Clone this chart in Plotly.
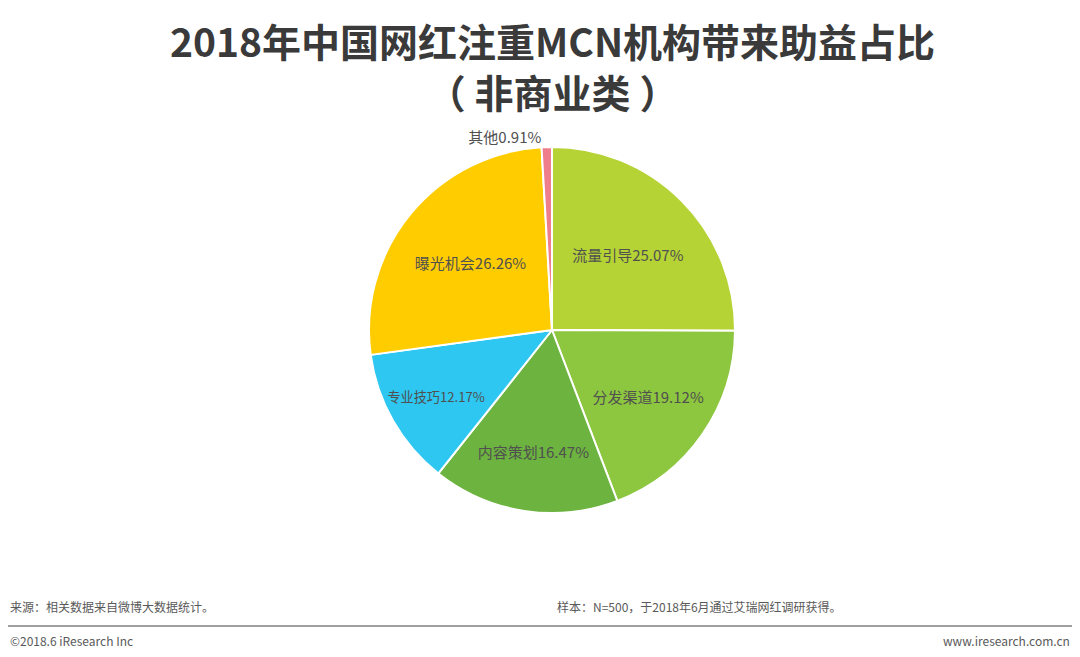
import plotly.graph_objects as go

labels = ["流量引导", "分发渠道", "内容策划", "专业技巧", "曝光机会", "其他"]
values = [25.07, 19.12, 16.47, 12.17, 26.26, 0.91]
colors = ["#b5d334", "#8dc63f", "#6cb33f", "#2dc7f1", "#ffcc00", "#ef7e8c"]
positions = ["inside", "inside", "inside", "inside", "inside", "outside"]

title_text = "2018年中国网红注重MCN机构带来助益占比<br>（ 非商业类 ）"
source_text = "来源：相关数据来自微博大数据统计。"
sample_text = "样本：N=500，于2018年6月通过艾瑞网红调研获得。"
copyright_text = "©2018.6 iResearch Inc"
site_text = "www.iresearch.com.cn"

W, H = 1080, 657
cx, cy, r = 552, 330, 183

fig = go.Figure(go.Pie(
    labels=labels,
    values=values,
    sort=False,
    direction="clockwise",
    rotation=0,
    marker=dict(colors=colors, line=dict(color="#ffffff", width=2)),
    texttemplate="%{label}%{value:.2f}%",
    textposition=positions,
    insidetextorientation="horizontal",
    textfont=dict(size=15, color="#505050", family="Noto Sans CJK SC"),
    outsidetextfont=dict(size=15, color="#505050", family="Noto Sans CJK SC"),
    hoverinfo="label+value",
    showlegend=False,
    domain=dict(x=[(cx - r) / W, (cx + r) / W], y=[1 - (cy + r) / H, 1 - (cy - r) / H]),
))


def ann(text, x, y, xanchor="left", size=12, color="#595959", weight="normal"):
    return dict(text=text, x=x / W, y=1 - y / H, xref="paper", yref="paper",
                xanchor=xanchor, yanchor="middle", showarrow=False,
                font=dict(size=size, color=color, family="Noto Sans CJK SC", weight=weight))


fig.update_layout(
    width=W, height=H,
    margin=dict(l=0, r=0, t=0, b=0),
    paper_bgcolor="#ffffff",
    plot_bgcolor="#ffffff",
    font=dict(family="Noto Sans CJK SC", color="#595959"),
    annotations=[
        ann(title_text, 552, 65, "center", 39, "#3a3a3a", "bold"),
        ann(source_text, 8, 606),
        ann(sample_text, 555, 606),
        ann(copyright_text, 8, 640),
        ann(site_text, 1072, 640, "right"),
    ],
    shapes=[
        dict(type="line", xref="paper", yref="paper", x0=8 / W, x1=1072 / W,
             y0=1 - 626 / H, y1=1 - 626 / H, line=dict(color="#808080", width=1.5)),
    ],
)

fig.write_html("out.html", config={"displayModeBar": False},
               post_script="document.body.style.margin='0';document.body.style.overflow='hidden';")
